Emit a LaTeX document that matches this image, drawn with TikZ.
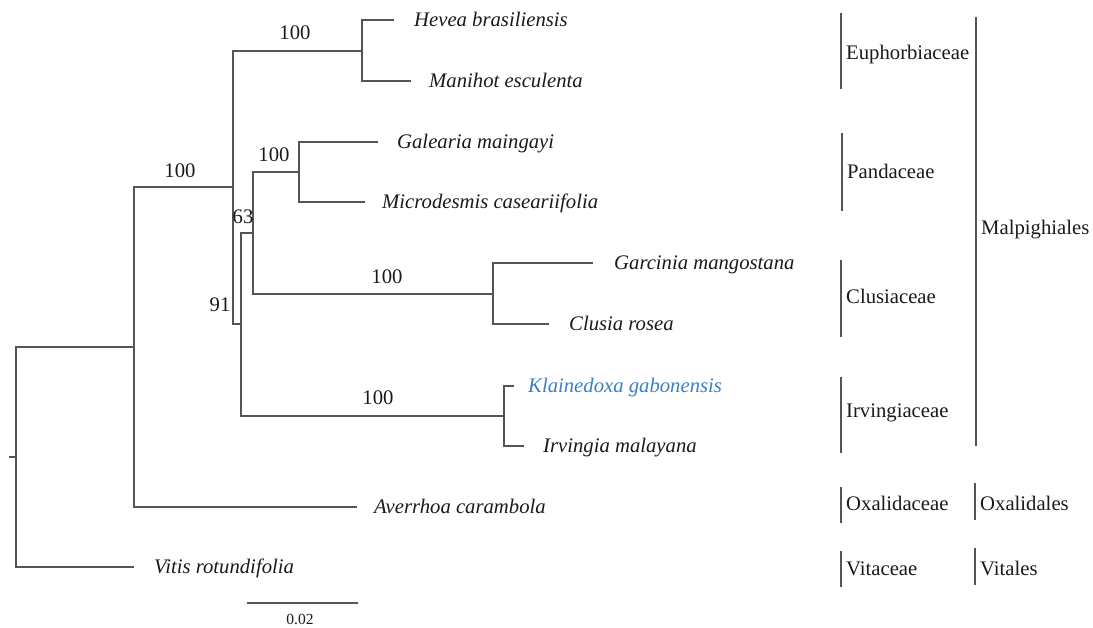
\documentclass[tikz,border=0pt]{standalone}
\usepackage{fontspec}
\setmainfont{Liberation Serif}
\usetikzlibrary{positioning}
\definecolor{branchGrey}{HTML}{555555}
\definecolor{inkBlack}{HTML}{1A1A1A}
\definecolor{focusBlue}{HTML}{3A7FC4}
\tikzset{
  br/.style   = {draw=branchGrey, line width=1.5pt},
  bar/.style  = {draw=branchGrey, line width=1.5pt},
  leaf/.style = {font=\fontsize{20.7}{24}\selectfont\itshape, text=inkBlack,
                 inner sep=0pt, text height=13.7pt, text depth=0pt},
  bs/.style   = {font=\fontsize{20.7}{24}\selectfont, text=inkBlack,
                 inner sep=0pt, text height=14pt, text depth=0pt},
  fam/.style  = {font=\fontsize{20.7}{24}\selectfont, text=inkBlack,
                 inner sep=5pt, text height=13.7pt, text depth=0pt}
}
\begin{document}
\begin{tikzpicture}[x=1pt, y=-1pt]
  \useasboundingbox (0,0) rectangle (1093,627);
  % internal nodes
  \coordinate (root) at (16,457);
  \coordinate (nOx)  at (134,347);
  \coordinate (nMal) at (233,187);
  \coordinate (nEu)  at (362,51);
  \coordinate (n91)  at (241,324);
  \coordinate (n63)  at (253,233);
  \coordinate (nPan) at (299,172);
  \coordinate (nClu) at (493,294);
  \coordinate (nIrv) at (504,416);
  \coordinate (base) at (9,457);
  % tips and species
  \foreach \nm/\x/\y/\g/\t in {Hev/394/20/20/Hevea brasiliensis,
      Man/411/81/18/Manihot esculenta, Gal/378/142/19/Galearia maingayi,
      Mic/365/202/17/Microdesmis caseariifolia, Gar/593/263/21/Garcinia mangostana,
      Clu/549/324/20/Clusia rosea, Irv/524/446/19/Irvingia malayana,
      Ave/357/507/17/Averrhoa carambola, Vit/134/567/20/Vitis rotundifolia}
  {
    \coordinate (t\nm) at (\x,\y);
    \node[leaf, right=\g pt of t\nm] (\nm) {\t};
  }
  \coordinate (tKla) at (514,386);
  \node[leaf, text=focusBlue, right=14pt of tKla] (Kla) {Klainedoxa gabonensis};
  % branches
  \draw[br] (base) -- (root);
  \foreach \p/\c in {root/nOx, root/tVit, nOx/nMal, nOx/tAve, nMal/nEu, nMal/n91,
      nEu/tHev, nEu/tMan, n91/n63, n91/nIrv, n63/nPan, n63/nClu, nPan/tGal,
      nPan/tMic, nClu/tGar, nClu/tClu, nIrv/tKla, nIrv/tIrv}
    \draw[br] (\p) |- (\c);
  % bootstrap values
  \node[bs] (bEu)  at (295,32)  {100};
  \node[bs] (bMal) at (180,170) {100};
  \node[bs] (bPan) at (274,154) {100};
  \node[bs] (b63)  at (243,216) {63};
  \node[bs] (b91)  at (220,304) {91};
  \node[bs] (bClu) at (387,276) {100};
  \node[bs] (bIrv) at (378,397) {100};
  % scale bar
  \coordinate (sL) at (247,603);
  \coordinate (sR) at (358,603);
  \draw[br] (sL) -- (sR);
  \node[bs, font=\fontsize{15.5}{18}\selectfont, text height=10.5pt] (scale) at (300,619) {0.02};
  % families and orders
  \foreach \x/\a/\b/\ty/\nm/\t in {841/13/89/53/fEup/Euphorbiaceae,
      842/133/211/172/fPan/Pandaceae, 841/260/337/297/fClu/Clusiaceae,
      841/377/453/411/fIrv/Irvingiaceae, 841/487/523/504/fOxa/Oxalidaceae,
      841/551/587/569/fVit/Vitaceae, 976/17/446/228/oMal/Malpighiales,
      975/483/520/504/oOxa/Oxalidales, 975/548/585/569/oVit/Vitales}
  {
    \draw[bar] (\x,\a) -- (\x,\b);
    \node[fam, right] (\nm) at (\x,\ty) {\t};
  }
\end{tikzpicture}
\end{document}
